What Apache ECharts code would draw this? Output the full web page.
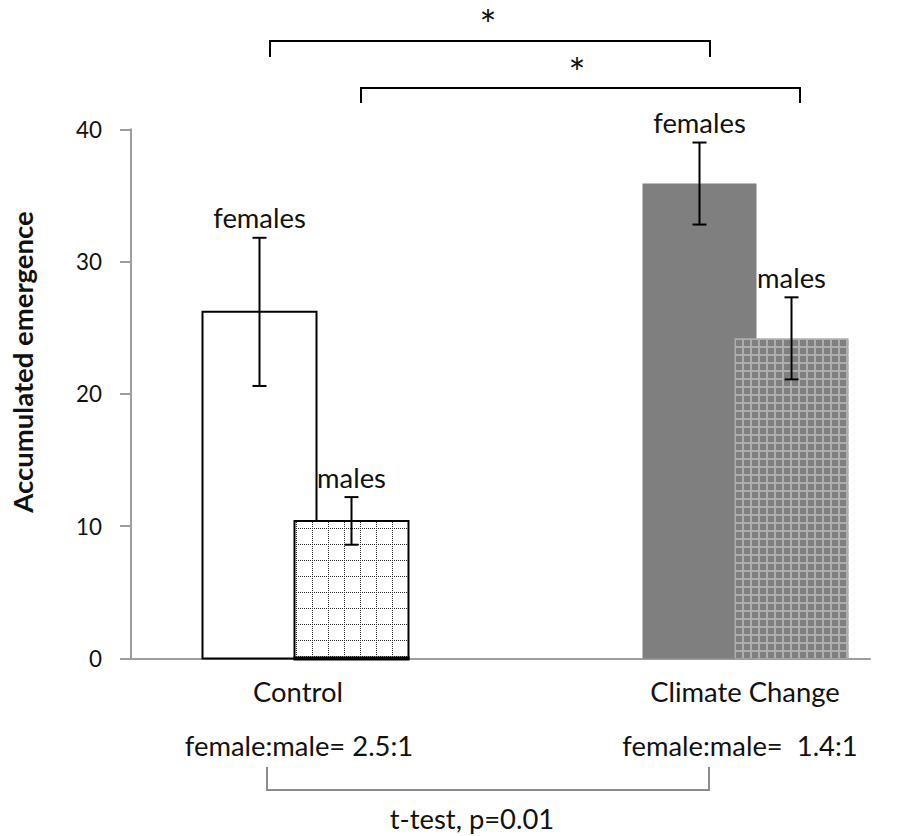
<!DOCTYPE html>
<html>
<head>
<meta charset="utf-8">
<script src="https://cdn.jsdelivr.net/npm/echarts@6/dist/echarts.min.js"></script>
<style>
  html, body { margin: 0; padding: 0; background: #fff; }
  #chart { width: 908px; height: 836px; }
</style>
</head>
<body>
<div id="chart"></div>
<script>
// ---------- data ----------
const categories = ['Control', 'Climate Change'];
const seriesNames = ['females', 'males'];
const females = [26.2, 35.9];
const femalesErr = [5.6, 3.1];
const males = [10.4, 24.2];
const malesErr = [1.8, 3.1];
const ratioLabels = ['female:male= 2.5:1', 'female:male=  1.4:1'];
const yTicks = [0, 10, 20, 30, 40];
const yTitle = 'Accumulated emergence';
const testLabel = 't-test, p=0.01';
const sigMark = '*';

// ---------- layout ----------
// the x axis is a plain value axis measured in pixels from the y axis
const GRID = { left: 131, right: 38, top: 129.3, bottom: 177.5 };
const X_SPAN = 908 - GRID.left - GRID.right;
const groupCenters = [174.5, 614.5];
const slotOffset = { females: -46, males: 46 };
const BAR_W = 114;
const CAP_W = 14;

const FONT = 'Lato, "Open Sans", sans-serif';
const INK = '#111';
const AXIS_GREY = '#9d9d9d';

// Calibri is not installed: size Lato so the labels keep their widths
const measure = document.createElement('canvas').getContext('2d');
function fitSize(text, width, weight) {
  measure.font = (weight || 'normal') + ' 100px Lato';
  return +(100 * width / measure.measureText(text).width).toFixed(1);
}
const labelSize = fitSize('ControlClimate Changefemalesmales', 441);
const tickSize = fitSize('40', 26);
const titleSize = fitSize(yTitle, 301, 'bold');
const starSize = 40;

// ---------- fills ----------
function tile(size, paint) {
  const c = document.createElement('canvas');
  c.width = size; c.height = size;
  paint(c.getContext('2d'));
  return { image: c, repeat: 'repeat', imageWidth: size, imageHeight: size };
}
// white cells separated by dotted black lines
const dottedGrid = tile(16, g => {
  g.fillStyle = '#fff'; g.fillRect(0, 0, 16, 16);
  g.fillStyle = '#2a2a2a';
  for (let k = 0; k < 16; k += 2) { g.fillRect(8, k, 1, 1); g.fillRect(k, 0, 1, 1); }
});
// grey cells separated by light grey lines
const greyGrid = tile(8, g => {
  g.fillStyle = '#7f7f7f'; g.fillRect(0, 0, 8, 8);
  g.fillStyle = '#adadad';
  g.fillRect(6, 0, 2, 8); g.fillRect(0, 2, 8, 2);
});

const barStyles = {
  females: [
    { fill: '#fff', stroke: '#000', lineWidth: 2 },
    { fill: '#7f7f7f', stroke: null, lineWidth: 0 }
  ],
  males: [
    { fill: dottedGrid, stroke: '#000', lineWidth: 2, base: 4 },
    { fill: greyGrid, stroke: null, lineWidth: 0 }
  ]
};

// ---------- series ----------
function barSeries(name, values) {
  return {
    type: 'custom',
    name,
    z: 2,
    data: values.map((v, i) => [i, v]),
    encode: { x: 0, y: 1 },
    renderItem(params, api) {
      const i = api.value(0), v = api.value(1);
      const xc = groupCenters[i] + slotOffset[name];
      const p0 = api.coord([xc - BAR_W / 2, 0]);
      const p1 = api.coord([xc + BAR_W / 2, v]);
      const st = barStyles[name][i];
      const children = [{
        type: 'rect',
        shape: { x: p0[0], y: p1[1], width: p1[0] - p0[0], height: p0[1] - p1[1] },
        style: { fill: st.fill, stroke: st.stroke, lineWidth: st.lineWidth }
      }];
      if (st.base) {
        children.push({
          type: 'line',
          shape: { x1: p0[0] - 1, y1: p0[1], x2: p1[0] + 1, y2: p0[1] },
          style: { stroke: '#000', lineWidth: st.base }
        });
      }
      return { type: 'group', children };
    }
  };
}

function errorSeries(name, values, errs) {
  return {
    type: 'custom',
    name: name + ' error',
    z: 3,
    data: values.map((v, i) => [i, v, errs[i]]),
    encode: { x: 0, y: 1 },
    renderItem(params, api) {
      const i = api.value(0), v = api.value(1), e = api.value(2);
      const xc = groupCenters[i] + slotOffset[name];
      const hi = api.coord([xc, v + e]);
      const lo = api.coord([xc, v - e]);
      const line = { stroke: '#000', lineWidth: 2 };
      return {
        type: 'group',
        children: [
          { type: 'line', shape: { x1: hi[0], y1: hi[1], x2: lo[0], y2: lo[1] }, style: line },
          { type: 'line', shape: { x1: hi[0] - CAP_W / 2, y1: hi[1], x2: hi[0] + CAP_W / 2, y2: hi[1] }, style: line },
          { type: 'line', shape: { x1: lo[0] - CAP_W / 2, y1: lo[1], x2: lo[0] + CAP_W / 2, y2: lo[1] }, style: line },
          {
            type: 'text',
            x: hi[0], y: hi[1] - 20,
            style: {
              text: name, fill: INK, fontFamily: FONT, fontSize: labelSize,
              align: 'center', verticalAlign: 'middle'
            }
          }
        ]
      };
    }
  };
}

// ---------- annotations ----------
function txt(text, x, y, extra) {
  return {
    type: 'text', x, y,
    style: Object.assign({
      text, fill: INK, fontFamily: FONT, fontSize: labelSize,
      align: 'center', verticalAlign: 'middle'
    }, extra || {})
  };
}
function bracket(x1, x2, yLine, yEnd, color) {
  return {
    type: 'polyline',
    shape: { points: [[x1, yEnd], [x1, yLine], [x2, yLine], [x2, yEnd]] },
    style: { stroke: color, lineWidth: 2, fill: null }
  };
}

const labelX = [298, 745];
const ratioX = [299, 740];

const title = txt(yTitle, 22.5, 362, { fontWeight: 'bold', fontSize: titleSize });
title.rotation = Math.PI / 2;

const graphics = [
  title,
  // significance brackets above the bars
  txt(sigMark, 488, 25, { fontSize: starSize }),
  bracket(270, 710, 41, 57, '#000'),
  txt(sigMark, 577, 73, { fontSize: starSize }),
  bracket(361, 800, 88, 103, '#000'),
  // category names and sex ratios under the axis
  ...categories.map((c, i) => txt(c, labelX[i], 691)),
  ...ratioLabels.map((r, i) => txt(r, ratioX[i], 745)),
  bracket(267, 709, 790, 767, '#8c8c8c'),
  txt(testLabel, 472, 818)
];

const chart = echarts.init(document.getElementById('chart'), null, { renderer: 'svg' });
chart.setOption({
  animation: false,
  backgroundColor: '#fff',
  grid: GRID,
  xAxis: {
    type: 'value',
    min: 0, max: X_SPAN,
    axisLine: { show: true, onZero: false, lineStyle: { color: AXIS_GREY, width: 2 } },
    axisTick: { show: false },
    axisLabel: { show: false },
    splitLine: { show: false }
  },
  yAxis: {
    type: 'value',
    min: yTicks[0], max: yTicks[yTicks.length - 1], interval: yTicks[1] - yTicks[0],
    axisLine: { show: true, lineStyle: { color: AXIS_GREY, width: 2 } },
    axisTick: { show: true, length: 11, lineStyle: { color: AXIS_GREY, width: 2 } },
    axisLabel: { color: INK, fontFamily: FONT, fontSize: tickSize, margin: 29 },
    splitLine: { show: false }
  },
  series: [
    barSeries('females', females),
    barSeries('males', males),
    errorSeries('females', females, femalesErr),
    errorSeries('males', males, malesErr)
  ],
  graphic: graphics
});
</script>
</body>
</html>
